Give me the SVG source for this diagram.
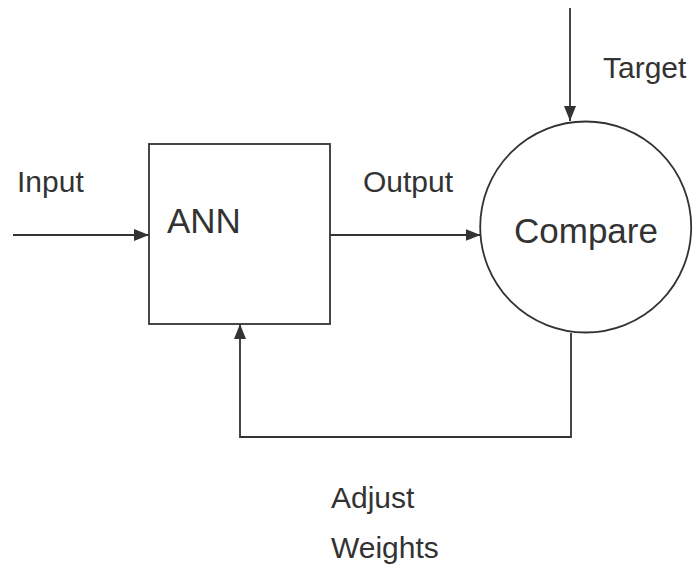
<svg xmlns="http://www.w3.org/2000/svg" width="695" height="569" viewBox="0 0 695 569">
  <defs>
    <style>
      .shape { fill: #ffffff; stroke: #333333; stroke-width: 1.8; }
      .wire { fill: none; stroke: #333333; stroke-width: 1.8; }
      .label { font-family: "Liberation Sans", Arial, sans-serif; font-size: 30px; fill: #333333; }
      .title { font-family: "Liberation Sans", Arial, sans-serif; font-size: 35px; fill: #333333; }
    </style>
    <marker id="arrow" viewBox="0 0 15 12" refX="15" refY="6" markerWidth="15" markerHeight="12" markerUnits="userSpaceOnUse" orient="auto">
      <path d="M0,0 L15,6 L0,12 Z" fill="#333333"/>
    </marker>
  </defs>
  <rect width="695" height="569" fill="#ffffff"/>

  <g id="connectors">
    <line class="wire" x1="13" y1="235" x2="149" y2="235" marker-end="url(#arrow)"/>
    <line class="wire" x1="330" y1="235" x2="480.5" y2="235" marker-end="url(#arrow)"/>
    <line class="wire" x1="570" y1="8" x2="570" y2="121" marker-end="url(#arrow)"/>
    <polyline class="wire" points="571,333 571,437 240,437 240,324" marker-end="url(#arrow)"/>
  </g>

  <g id="ann">
    <rect class="shape" x="149" y="144" width="181" height="180"/>
    <text class="title" x="167" y="233">ANN</text>
  </g>

  <g id="compare">
    <circle class="shape" cx="585.7" cy="227" r="105.5"/>
    <text class="title" x="514" y="243">Compare</text>
  </g>

  <g id="labels">
    <text class="label" x="17" y="192">Input</text>
    <text class="label" x="363" y="192">Output</text>
    <text class="label" x="603" y="78">Target</text>
    <text class="label" x="331" y="508">Adjust</text>
    <text class="label" x="331" y="558">Weights</text>
  </g>
</svg>
